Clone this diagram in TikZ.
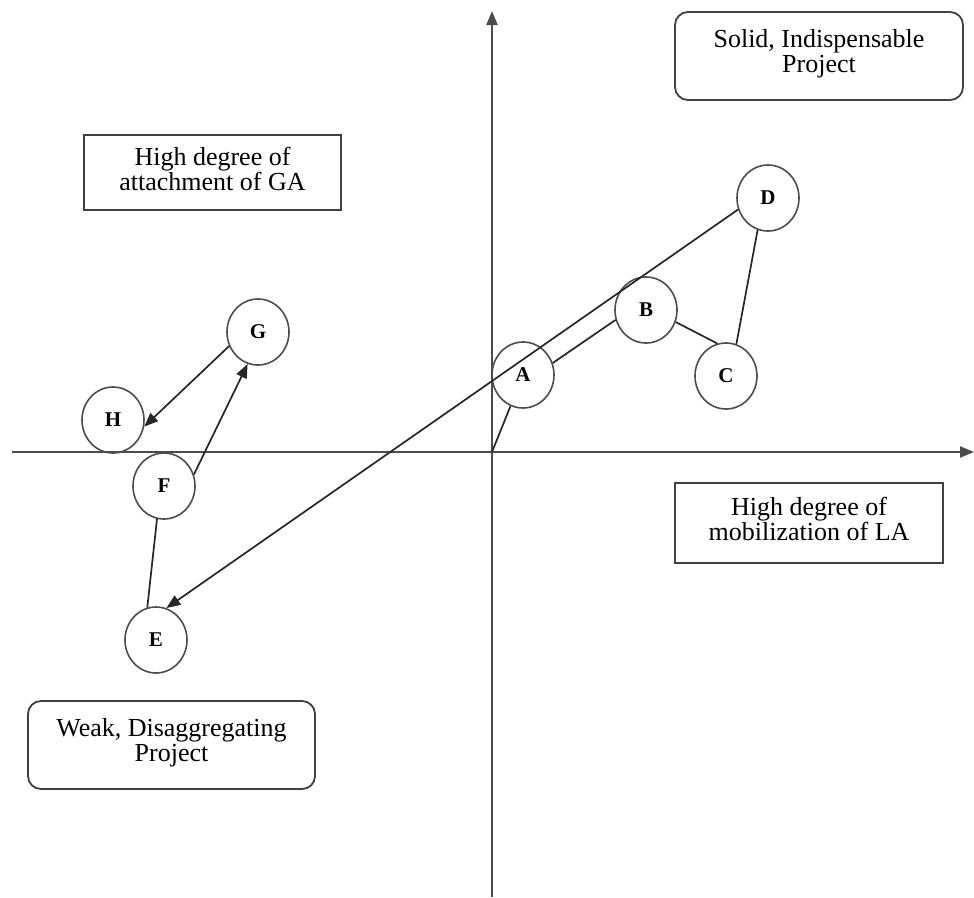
\documentclass[tikz,border=0pt]{standalone}
\usepackage{fontspec}
\setmainfont{Liberation Serif}
\usetikzlibrary{arrows.meta,shapes.geometric}
\begin{document}
\begin{tikzpicture}[x=1pt,y=-1pt,
  pt/.style={ellipse,draw=black!70,line width=1.6pt,minimum width=62pt,minimum height=66pt,inner sep=0pt,
    font=\fontsize{21}{22}\selectfont\bfseries},
  lbl/.style={draw=black!75,line width=1.8pt,align=center,inner sep=0pt,
    font=\fontsize{26}{25}\selectfont},
  con/.style={draw=black!85,line width=1.7pt},
  arr/.style={con,-{Triangle[length=14pt,width=11pt]}},
  axis/.style={draw=black!70,line width=2.2pt,-{Triangle[length=14pt,width=11pt]}}]
\useasboundingbox (0,0) rectangle (974,897);
\fill[white] (0,0) rectangle (974,897);
% axes
\coordinate (xl) at (12,452);
\coordinate (xr) at (974,452);
\coordinate (yb) at (492,897);
\coordinate (yt) at (492,11);
\coordinate (O) at (492,452);
\draw[axis] (xl) -- (xr);
\draw[axis] (yb) -- (yt);
% labels
\node[lbl,rounded corners=13pt,minimum width=288pt,minimum height=88pt,text depth=10pt] (solid) at (819,56) {Solid, Indispensable\\Project};
\node[lbl,minimum width=257pt,minimum height=75pt,text depth=8pt] (attach) at (212.5,172.5) {High degree of\\attachment of GA};
\node[lbl,minimum width=268pt,minimum height=80pt,text depth=8pt] (mobil) at (809,523) {High degree of\\mobilization of LA};
\node[lbl,rounded corners=13pt,minimum width=287pt,minimum height=88pt,text depth=10pt] (weak) at (171.5,745) {Weak, Disaggregating\\Project};
% points
\node[pt] (A) at (523,375) {A};
\node[pt] (B) at (646,310) {B};
\node[pt] (C) at (726,376) {C};
\node[pt] (D) at (768,198) {D};
\node[pt] (G) at (258,332) {G};
\node[pt] (H) at (113,420) {H};
\node[pt] (F) at (164,486) {F};
\node[pt] (E) at (156,640) {E};
% connectors
\draw[con] (O) -- (A);
\draw[con] (B.198) -- (A.22);
\draw[con] (B.338) -- (C.105);
\draw[con] (C.72) -- (D.252);
\draw[arr] (D.201) -- (E.72);
\draw[con] (F.258) -- (E.105);
\draw[arr] (F.21) -- (G.252);
\draw[arr] (G.206) -- (H.348);
\end{tikzpicture}
\end{document}
